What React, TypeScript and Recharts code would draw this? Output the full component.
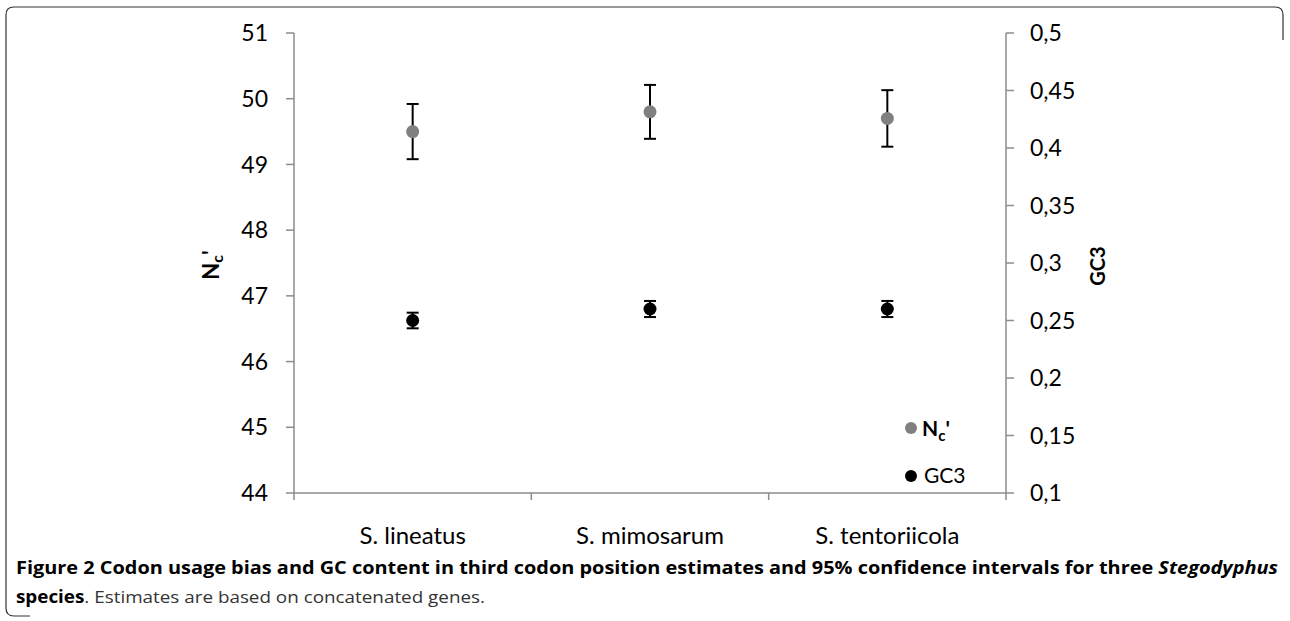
import React from 'react';
import { ComposedChart, Line, XAxis, YAxis, ErrorBar, Legend } from 'recharts';

const species = ['S. lineatus', 'S. mimosarum', 'S. tentoriicola'];
const ncValues = [49.5, 49.8, 49.7];
const ncErrors = [0.42, 0.41, 0.43];
const gc3Values = [0.25, 0.26, 0.26];
const gc3Errors = [0.0068, 0.007, 0.007];
const leftTicks = [44, 45, 46, 47, 48, 49, 50, 51];
const rightTicks = [0.1, 0.15, 0.2, 0.25, 0.3, 0.35, 0.4, 0.45, 0.5];
const seriesOrder = ['nc', 'gc3'];
const seriesColors: Record<string, string> = { nc: '#808080', gc3: '#000000' };

const data = species.map((s, i) => ({
  species: s,
  nc: ncValues[i],
  ncErr: ncErrors[i],
  gc3: gc3Values[i],
  gc3Err: gc3Errors[i],
}));

const AXIS = '#8c8c8c';
const FONT = 'Lato, "Open Sans", sans-serif';

const XTick = (props: any) => {
  const { x, y, payload, index, visibleTicksCount, width } = props;
  const half = payload && typeof payload.offset === 'number' && payload.offset > 0
    ? payload.offset
    : width / visibleTicksCount / 2;
  return (
    <g>
      <line x1={x - half} x2={x - half} y1={y} y2={y + 7} stroke={AXIS} strokeWidth={1.5} />
      {index === visibleTicksCount - 1 && (
        <line x1={x + half} x2={x + half} y1={y} y2={y + 7} stroke={AXIS} strokeWidth={1.5} />
      )}
      <text x={x} y={y + 42} dy="0.36em" textAnchor="middle" fontFamily={FONT} fontSize={24} fill="#000">
        {payload.value}
      </text>
    </g>
  );
};

const NcAxisLabel = (props: any) => {
  const vb = props.viewBox || { x: 0, y: 0, width: 0, height: 0 };
  const cx = vb.x + 30;
  const cy = vb.y + vb.height / 2 + 2;
  return (
    <text
      x={cx}
      y={cy}
      transform={`rotate(-90, ${cx}, ${cy})`}
      textAnchor="middle"
      dominantBaseline="central"
      fontFamily={FONT}
      fontWeight="bold"
      fontSize={22}
      fill="#000"
    >
      <tspan>N</tspan>
      <tspan dy={6} fontSize={16}>c</tspan>
      <tspan dy={-6}>'</tspan>
    </text>
  );
};

const GcAxisLabel = (props: any) => {
  const vb = props.viewBox || { x: 0, y: 0, width: 0, height: 0 };
  const cx = vb.x + 91;
  const cy = vb.y + vb.height / 2 + 3;
  return (
    <text
      x={cx}
      y={cy}
      transform={`rotate(-90, ${cx}, ${cy})`}
      textAnchor="middle"
      dominantBaseline="central"
      fontFamily={FONT}
      fontWeight="bold"
      fontSize={20}
      fill="#000"
    >
      GC3
    </text>
  );
};

const LegendContent = (props: any) => {
  const payload = ([...(props.payload || [])] as any[]).sort(
    (a, b) => seriesOrder.indexOf(String(a.dataKey)) - seriesOrder.indexOf(String(b.dataKey))
  );
  return (
    <svg width={110} height={100} style={{ display: 'block' }}>
      {payload.map((p: any, i: number) => {
        const cy = 24 + i * 48;
        const color = seriesColors[p.dataKey] || '#000';
        return (
          <g key={String(p.dataKey)}>
            <circle cx={11} cy={cy} r={6} fill={color} />
            {p.dataKey === 'nc' ? (
              <text x={22} y={cy + 8} fontFamily={FONT} fontWeight="bold" fontSize={21} fill="#000">
                <tspan>N</tspan>
                <tspan dy={5} fontSize={15}>c</tspan>
                <tspan dy={-5}>'</tspan>
              </text>
            ) : (
              <text x={24} y={cy + 7} fontFamily={FONT} fontSize={21} fill="#000">
                {p.value}
              </text>
            )}
          </g>
        );
      })}
    </svg>
  );
};

export default function App() {
  return (
    <div style={{ position: 'absolute', left: 0, top: 0, width: 1290, height: 621, background: '#fff' }}>
      <svg width={1290} height={621} style={{ position: 'absolute', left: 0, top: 0 }}>
        <path
          d="M 1283 40 L 1283 15 Q 1283 7 1275 7 L 14 7 Q 6 7 6 15 L 6 608 Q 6 616 14 616 L 30 616"
          fill="none"
          stroke="#333"
          strokeWidth={1.2}
        />
        <text x={16} y={574} fontFamily='"Open Sans", sans-serif' fontSize={17} fill="#000" textLength={1262} lengthAdjust="spacingAndGlyphs">
          <tspan fontWeight="bold">Figure 2 Codon usage bias and GC content in third codon position estimates and 95% confidence intervals for three </tspan>
          <tspan fontWeight="bold" fontStyle="italic">Stegodyphus</tspan>
        </text>
        <text x={16} y={603} fontFamily='"Open Sans", sans-serif' fontSize={17} fill="#000" textLength={469} lengthAdjust="spacingAndGlyphs">
          <tspan fontWeight="bold">species</tspan>
          <tspan fill="#333">. Estimates are based on concatenated genes.</tspan>
        </text>
      </svg>
      <div style={{ position: 'absolute', left: 0, top: 0 }}>
        <ComposedChart
          width={1290}
          height={560}
          data={data}
          margin={{ top: 33, right: 150, bottom: 37, left: 180 }}
        >
          <XAxis
            dataKey="species"
            type="category"
            scale="band"
            height={30}
            axisLine={{ stroke: AXIS, strokeWidth: 1.5 }}
            tickLine={false}
            tickSize={0}
            tickMargin={0}
            tick={<XTick />}
            interval={0}
          />
          <YAxis
            yAxisId="left"
            orientation="left"
            width={114}
            domain={[44, 51]}
            ticks={leftTicks}
            interval={0}
            axisLine={{ stroke: AXIS, strokeWidth: 1.5 }}
            tickLine={{ stroke: AXIS, strokeWidth: 1.5 }}
            tickSize={8}
            tickMargin={18}
            tick={{ fill: '#000', fontFamily: FONT, fontSize: 23 }}
            label={<NcAxisLabel />}
          />
          <YAxis
            yAxisId="right"
            orientation="right"
            width={134}
            domain={[0.1, 0.5]}
            ticks={rightTicks}
            interval={0}
            axisLine={{ stroke: AXIS, strokeWidth: 1.5 }}
            tickLine={{ stroke: AXIS, strokeWidth: 1.5 }}
            tickSize={8}
            tickMargin={16}
            tick={{ fill: '#000', fontFamily: FONT, fontSize: 23 }}
            tickFormatter={(v: number) => String(v).replace('.', ',')}
            label={<GcAxisLabel />}
          />
          <Legend
            layout="vertical"
            align="center"
            verticalAlign="middle"
            content={<LegendContent />}
            wrapperStyle={{ left: 900, top: 404, width: 110, height: 100 }}
          />
          <Line
            yAxisId="left"
            dataKey="nc"
            name="Nc'"
            stroke="none"
            strokeWidth={0}
            dot={{ r: 6.5, fill: seriesColors.nc, stroke: 'none' }}
            activeDot={false}
            isAnimationActive={false}
          >
            <ErrorBar dataKey="ncErr" width={6} stroke="#000" strokeWidth={2} direction="y" />
          </Line>
          <Line
            yAxisId="right"
            dataKey="gc3"
            name="GC3"
            stroke="none"
            strokeWidth={0}
            dot={{ r: 6.5, fill: seriesColors.gc3, stroke: 'none' }}
            activeDot={false}
            isAnimationActive={false}
          >
            <ErrorBar dataKey="gc3Err" width={6} stroke="#000" strokeWidth={2} direction="y" />
          </Line>
        </ComposedChart>
      </div>
    </div>
  );
}
